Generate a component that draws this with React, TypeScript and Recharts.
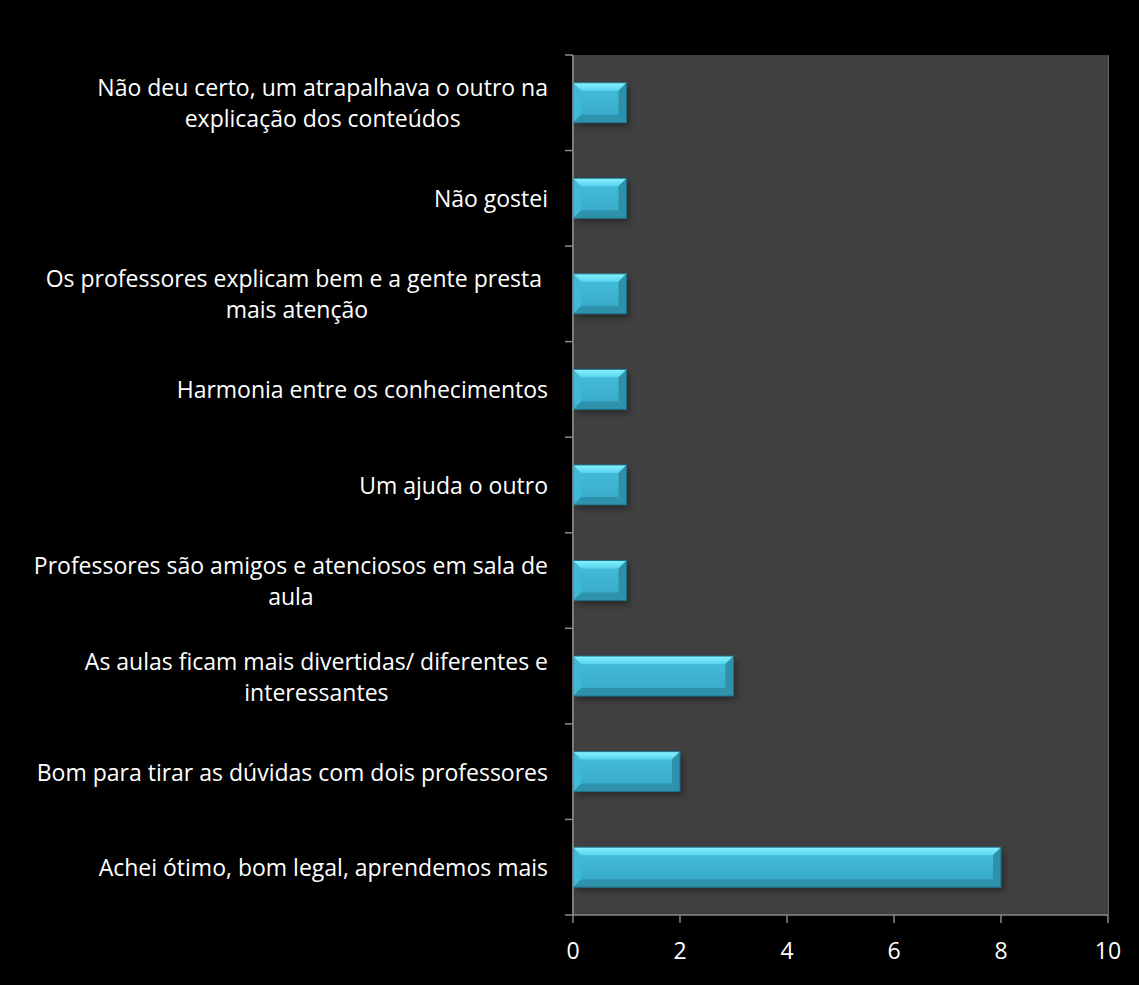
import { Bar, BarChart, CartesianGrid, XAxis, YAxis } from "recharts";

const CATEGORIES = [
  "Não deu certo, um atrapalhava o outro na\nexplicação dos conteúdos",
  "Não gostei",
  "Os professores explicam bem e a gente presta \nmais atenção",
  "Harmonia entre os conhecimentos",
  "Um ajuda o outro",
  "Professores são amigos e atenciosos em sala de\naula",
  "As aulas ficam mais divertidas/ diferentes e\ninteressantes",
  "Bom para tirar as dúvidas com dois professores",
  "Achei ótimo, bom legal, aprendemos mais",
];
const VALUES = [1, 1, 1, 1, 1, 1, 3, 2, 8];
const X_TICKS = [0, 2, 4, 6, 8, 10];

const data = CATEGORIES.map((name, i) => ({ name, value: VALUES[i] }));

const FONT = "'Open Sans', sans-serif";
const FONT_SIZE = 23;
const PLOT_TOP = 55;
const PLOT_H = 860;

let ctx: CanvasRenderingContext2D | null = null;
function measure(s: string) {
  if (!ctx) ctx = document.createElement("canvas").getContext("2d");
  if (!ctx) return s.length * 12;
  ctx.font = `${FONT_SIZE}px 'Open Sans'`;
  return ctx.measureText(s).width;
}

// rotulos com varias linhas: bloco alinhado a direita, linhas centradas
function CategoryTick({ x, y, payload, index }: any) {
  const lines: string[] = String(payload.value).split("\n");
  const lh = 31;
  const startY = y - ((lines.length - 1) * lh) / 2;
  const blockW = Math.max(...lines.map((l) => measure(l)));
  const cx = x - blockW / 2;
  const band = PLOT_H / CATEGORIES.length;
  const axisX = x + 25;
  return (
    <g>
      <line x1={axisX - 8} x2={axisX} y1={y - band / 2} y2={y - band / 2} stroke="#8a8a8a" strokeWidth={1.5} />
      {index === CATEGORIES.length - 1 && (
        <line x1={axisX - 8} x2={axisX} y1={y + band / 2} y2={y + band / 2} stroke="#8a8a8a" strokeWidth={1.5} />
      )}
      <text textAnchor="middle" fill="#ffffff" fontSize={FONT_SIZE} fontFamily={FONT} dominantBaseline="central">
        {lines.map((l, i) => (
          <tspan key={i} x={cx} y={startY + i * lh} style={{ whiteSpace: "pre" }}>
            {l}
          </tspan>
        ))}
      </text>
    </g>
  );
}

function BevelBar({ x, y, width, height }: any) {
  if (!width || width <= 0) return null;
  const b = Math.min(8, width / 2, height / 2);
  const x2 = x + width;
  const y2 = y + height;
  return (
    <g>
      <rect x={x + 3} y={y + 4} width={width} height={height} fill="#000" opacity={0.35} filter="url(#barShadow)" />
      <rect x={x} y={y} width={width} height={height} fill="url(#faceGrad)" />
      <polygon points={`${x},${y} ${x2},${y} ${x2 - b},${y + b} ${x + b},${y + b}`} fill="url(#topGrad)" />
      <polygon points={`${x},${y2} ${x2},${y2} ${x2 - b},${y2 - b} ${x + b},${y2 - b}`} fill="#2f92ad" />
      <polygon points={`${x},${y} ${x + b},${y + b} ${x + b},${y2 - b} ${x},${y2}`} fill="#3fb9d8" />
      <polygon points={`${x2},${y} ${x2 - b},${y + b} ${x2 - b},${y2 - b} ${x2},${y2}`} fill="#2e90aa" />
      <rect x={x} y={y} width={width} height={height} fill="none" stroke="#1f6f86" strokeWidth={1} />
    </g>
  );
}

export default function App() {
  return (
    <div style={{ width: 1139, height: 985, background: "#000", position: "relative" }}>
      <style>{`body{margin:0}`}</style>
      <BarChart
        width={1139}
        height={985}
        data={data}
        layout="vertical"
        margin={{ top: PLOT_TOP, right: 31, bottom: 0, left: 0 }}
        barCategoryGap="29%"
      >
        <defs>
          <linearGradient id="faceGrad" x1="0" y1="0" x2="0" y2="1">
            <stop offset="0%" stopColor="#46bedd" />
            <stop offset="100%" stopColor="#36a8c7" />
          </linearGradient>
          <linearGradient id="topGrad" x1="0" y1="0" x2="0" y2="1">
            <stop offset="0%" stopColor="#86f2ff" />
            <stop offset="100%" stopColor="#58d3ec" />
          </linearGradient>
          <filter id="barShadow" x="-10%" y="-30%" width="120%" height="160%">
            <feGaussianBlur stdDeviation="3" />
          </filter>
        </defs>
        <rect x={573} y={PLOT_TOP} width={535} height={PLOT_H} fill="#404040" />
        <CartesianGrid horizontal={false} vertical stroke="#8a8a8a" strokeWidth={1.5} />
        <XAxis
          type="number"
          domain={[0, 10]}
          ticks={X_TICKS}
          height={70}
          stroke="#8a8a8a"
          strokeWidth={1.5}
          tickSize={8}
          tickMargin={20}
          tick={{ fill: "#ffffff", fontSize: FONT_SIZE, fontFamily: FONT }}
        />
        <YAxis
          type="category"
          dataKey="name"
          width={573}
          stroke="#8a8a8a"
          strokeWidth={1.5}
          tickSize={8}
          tickMargin={17}
          tickLine={false}
          tick={<CategoryTick />}
          interval={0}
        />
        <Bar dataKey="value" shape={<BevelBar />} isAnimationActive={false} />
      </BarChart>
    </div>
  );
}
